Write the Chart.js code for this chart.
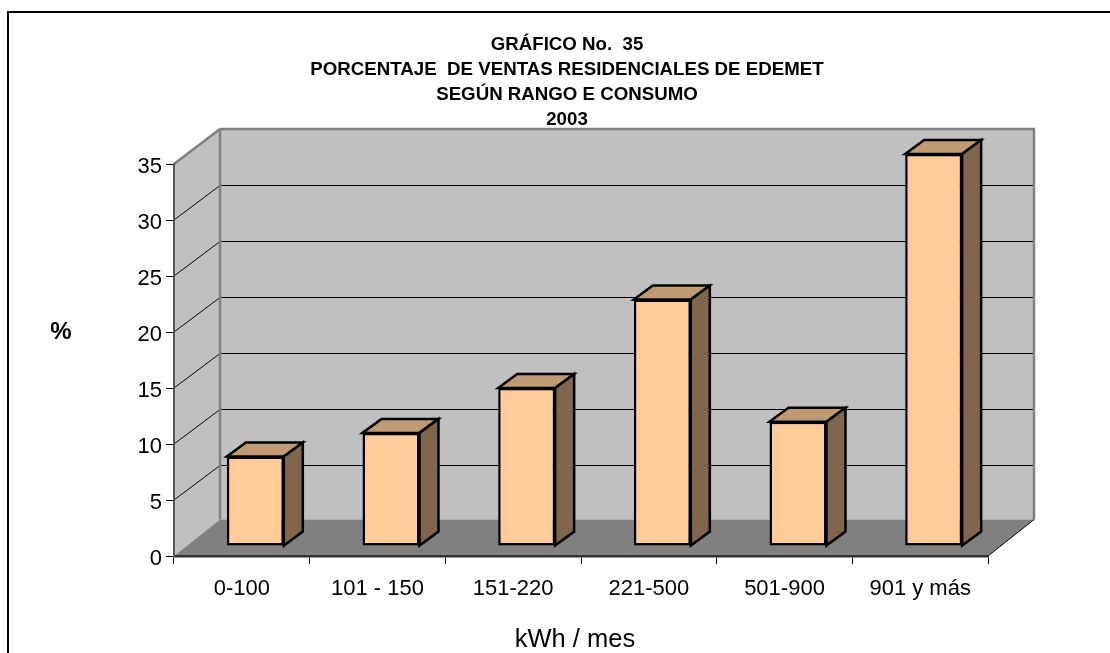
<!DOCTYPE html>
<html>
<head>
<meta charset="utf-8">
<title>Ventas residenciales</title>
<script src="https://cdn.jsdelivr.net/npm/chart.js@4/dist/chart.umd.min.js"></script>
<style>
    html, body { margin: 0; padding: 0; width: 1110px; height: 653px; overflow: hidden; background: #fff; }
    #frame { position: absolute; left: 7px; top: 11px; width: 1110px; height: 700px; border: 2px solid #000; box-sizing: border-box; }
    #chart { position: absolute; left: 0; top: 0; }
</style>
</head>
<body>
<div id="frame"></div>
<canvas id="chart" width="1110" height="653"></canvas>
<script>
const categories = ['0-100', '101 - 150', '151-220', '221-500', '501-900', '901 y más'];
const shares = [8, 10.1, 14.1, 22, 11.1, 35];
const titleLines = ['GRÁFICO No.  35', 'PORCENTAJE  DE VENTAS RESIDENCIALES DE EDEMET', 'SEGÚN RANGO E CONSUMO', '2003'];
const yTicks = [0, 5, 10, 15, 20, 25, 30, 35];

const fontFamily = '"Liberation Sans", Arial, sans-serif';

// depth of the fake 3D box and of the bars, in pixels
const wallDepth = { x: 46, y: -35 };
const floorDepthY = -36.5;
const barShift = { x: 13.5, y: -10 };
const barDepth = { x: 19, y: -14 };

function fillPoly(ctx, points, fill, stroke, lineWidth) {
    ctx.beginPath();
    points.forEach((p, i) => {
        if (i === 0) ctx.moveTo(p[0], p[1]);
        else ctx.lineTo(p[0], p[1]);
    });
    ctx.closePath();
    if (fill) {
        ctx.fillStyle = fill;
        ctx.fill();
    }
    if (stroke) {
        ctx.strokeStyle = stroke;
        ctx.lineWidth = lineWidth;
        ctx.lineJoin = 'miter';
        ctx.stroke();
    }
}

function drawLine(ctx, x1, y1, x2, y2, color, width) {
    ctx.beginPath();
    ctx.moveTo(x1, y1);
    ctx.lineTo(x2, y2);
    ctx.strokeStyle = color;
    ctx.lineWidth = width;
    ctx.stroke();
}

const boxPlugin = {
    id: 'box3d',
    afterLayout(chart) {
        // the title sits left of the plot centre in the original
        chart.titleBlock.left = 24;
        chart.titleBlock.right = 1110;
    },
    beforeDraw(chart) {
        const ctx = chart.ctx;
        const x = chart.scales.x;
        const y = chart.scales.y;
        const l = x.left, r = x.right;
        const top = y.getPixelForValue(35), bottom = y.getPixelForValue(0);
        const dx = wallDepth.x, dy = wallDepth.y, fy = floorDepthY;

        ctx.save();
        // side wall, back wall, floor
        fillPoly(ctx, [[l, top], [l + dx, top + dy], [l + dx, bottom + fy], [l, bottom]], '#C0C0C0');
        fillPoly(ctx, [[l + dx, top + dy], [r + dx, top + dy], [r + dx, bottom + fy], [l + dx, bottom + fy]], '#C0C0C0');
        fillPoly(ctx, [[l, bottom], [l + dx, bottom + fy], [r + dx, bottom + fy], [r, bottom]], '#808080');

        // grid lines run along the side wall then the back wall
        yTicks.forEach(v => {
            if (v === 0 || v === 35) return;
            const py = y.getPixelForValue(v);
            drawLine(ctx, l, py, l + dx, py + dy + 0.5, '#000', 1);
            drawLine(ctx, l + dx, py + dy + 0.5, r + dx, py + dy + 0.5, '#000', 1);
        });

        // wall edges
        drawLine(ctx, l, top, l + dx, top + dy, '#808080', 2.5);
        drawLine(ctx, l + dx, top + dy, r + dx + 1, top + dy, '#808080', 2.5);
        drawLine(ctx, l + dx, top + dy, l + dx, bottom + fy, '#808080', 2.5);
        drawLine(ctx, r + dx, top + dy, r + dx, bottom + fy, '#808080', 2.5);
        drawLine(ctx, r, bottom, r + dx, bottom + fy, '#000', 1);
        ctx.restore();
    },
    beforeDatasetDraw(chart, args) {
        const ctx = chart.ctx;
        const meta = chart.getDatasetMeta(args.index);
        ctx.save();
        ctx.translate(barShift.x, barShift.y);
        meta.data.forEach(bar => {
            const half = bar.width / 2;
            const left = bar.x - half, right = bar.x + half;
            const dx = barDepth.x, dy = barDepth.y;
            // top face and side face behind the front rectangle
            fillPoly(ctx, [[left, bar.y], [left + dx, bar.y + dy], [right + dx, bar.y + dy], [right, bar.y]], '#C09A73', '#000', 2.5);
            fillPoly(ctx, [[right, bar.y], [right + dx, bar.y + dy], [right + dx, bar.base + dy], [right, bar.base]], '#80664D', '#000', 2.5);
        });
    },
    afterDatasetDraw(chart) {
        chart.ctx.restore();
    },
    afterDraw(chart) {
        const ctx = chart.ctx;
        ctx.save();
        ctx.fillStyle = '#000';
        ctx.textAlign = 'center';
        ctx.textBaseline = 'middle';
        ctx.font = 'bold 24px ' + fontFamily;
        ctx.fillText('%', 61, 332);
        ctx.font = '25.5px ' + fontFamily;
        ctx.fillText('kWh / mes', 575, 640);
        ctx.restore();
    }
};

new Chart(document.getElementById('chart').getContext('2d'), {
    type: 'bar',
    data: {
        labels: categories,
        datasets: [{
            data: shares,
            backgroundColor: '#FFCC99',
            borderColor: '#000',
            borderWidth: 2.5,
            borderSkipped: false,
            barPercentage: 1,
            categoryPercentage: 0.42,
            clip: false
        }]
    },
    options: {
        responsive: false,
        animation: false,
        layout: { padding: { left: 0, right: 122, top: 0, bottom: 0 } },
        plugins: {
            legend: { display: false },
            tooltip: { enabled: false },
            title: {
                display: true,
                text: titleLines,
                color: '#000',
                font: { family: fontFamily, size: 18.7, weight: 'bold', lineHeight: '25px' },
                padding: { top: 32, bottom: 32 }
            }
        },
        scales: {
            x: {
                afterFit: scale => { scale.height = 97; },
                grid: { drawOnChartArea: false, color: '#000', tickLength: 8, tickWidth: 1 },
                border: { color: '#333', width: 2.5 },
                ticks: { color: '#000', font: { family: fontFamily, size: 22 }, padding: 12, maxRotation: 0 }
            },
            y: {
                min: 0,
                max: 35,
                afterFit: scale => { scale.width = 174; },
                afterBuildTicks: scale => { scale.ticks = yTicks.map(value => ({ value })); },
                grid: { drawOnChartArea: false, color: '#000', tickLength: 8, tickWidth: 1 },
                border: { color: '#555', width: 2 },
                ticks: { color: '#000', font: { family: fontFamily, size: 22 }, padding: 4, labelOffset: 3 }
            }
        }
    },
    plugins: [boxPlugin]
});
</script>
</body>
</html>
